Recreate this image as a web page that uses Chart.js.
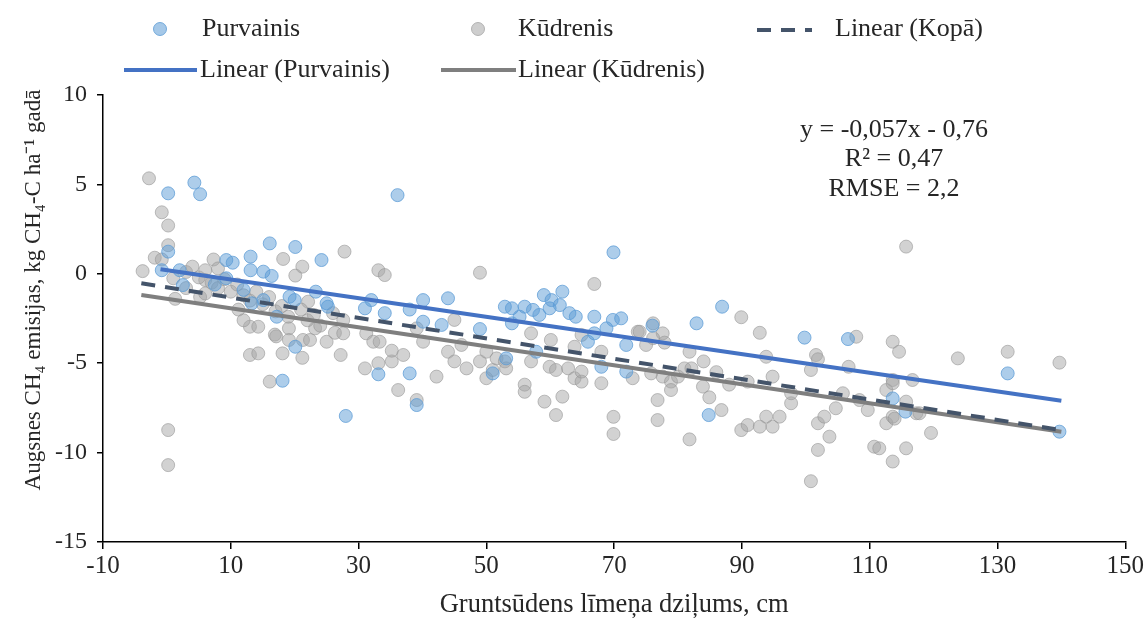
<!DOCTYPE html>
<html>
<head>
<meta charset="utf-8">
<script src="https://cdn.jsdelivr.net/npm/chart.js@4.4.1/dist/chart.umd.min.js"></script>
<style>
  html, body { margin: 0; padding: 0; background: #fff; }
  #wrap { width: 1146px; height: 624px; }
</style>
</head>
<body>
<div id="wrap"><canvas id="myChart"></canvas></div>
<script>
// data
const purvX = [-0.8, 0.2, 4.3, 5.2, 0.2, 16.1, 20.1, 24.2, 13.1, 9.3, 10.3, 13.1, 15.1, 16.4, 9.3, 2.0, 2.5, 19.2, 20, 13.3,
  15.1, 17.2, 23.3, 25, 25.2, 20.1, 18.1, 28.0, 36.1, 32.0, 31.0, 34.1, 38.0, 40.1, 44.0, 40.1, 33.1, 38.0, 39.1, 43.0,
  49.0, 52.9, 54.0, 56, 57.3, 58.3, 54, 55.2, 59, 60.2, 61.9, 59.9, 61.5, 63.0, 64.0, 66.9, 69.8, 71.1, 68.8, 65.9,
  66.9, 69.9, 71.9, 57.8, 53.1, 51.0, 68.0, 71.9, 86.9, 82.9, 76, 99.8, 106.6, 84.8, 113.6, 115.6, 131.6, 139.7, 7.5, 12];
const purvY = [0.2, 4.5, 5.1, 4.45, 1.24, 1.7, 1.5, 0.77, 0.96, 0.77, 0.62, 0.2, 0.12, -0.12, -0.25, 0.2, -0.63, -1.28, -1.47, -1.65,
  -1.47, -2.4, -1.0, -1.65, -1.84, -4.08, -5.98, -7.95, 4.4, -1.47, -1.93, -2.2, -2.0, -1.47, -1.37, -2.68, -5.62, -5.57, -7.34, -2.86,
  -3.09, -1.84, -1.93, -1.84, -2.02, -2.3, -2.77, -2.4, -1.19, -1.47, -1.0, -1.93, -1.75, -2.2, -2.4, -2.4, -2.58, -2.49, -3.05, -3.8,
  -3.33, 1.2, -3.98, -4.36, -4.73, -5.57, -5.2, -5.47, -1.84, -2.77, -2.9, -3.57, -3.65, -7.9, -6.97, -7.71, -5.57, -8.83, -0.6, -0.9];

const kudrX = [-2.8, -0.8, 0.2, 0.2, -1.9, -3.8, -0.8, 1.0, 1.3, 7.3, 6.0, 5.2, 11.2, 13.0, 14.3, 16.9, 17.1, 18.2, 21.2, 20.1,
  13.0, 14.3, 18.1, 21.2, 16.1, 27.2, 27.8, 19.1, 19.1, 21.3, 22.4, 25, 26.3, 23.2, 22.1, 0.2, 0.2,
  3, 4, 5, 6, 7, 8, 8, 9, 10, 11, 12, 13, 14, 15, 16, 17, 18, 19, 21, 22, 23, 24, 26, 12, 3, 6,
  33.1, 34.1, 49.0, 66.9, 27.6, 27.6, 31.2, 32.3, 33.3, 31, 33.1, 35.2, 35.2, 37, 36.2, 39.1, 39.1, 40.1, 42.2, 44,
  45, 46.1, 45, 46.9, 49.0, 50, 51, 50, 51.6, 52.9, 53.1, 56, 56, 57, 57, 59.1, 60.9, 61.9, 59.9, 60.9,
  60.1, 62.8, 63.8, 64.9, 64.9, 63.8, 68, 68, 64.9, 69.9, 69.9, 72.9, 73.7,
  115.7, 89.9, 92.8, 76.1, 74.0, 77.6, 76.1, 75, 77.9, 81.8, 75.8, 77.6, 78.9, 78.9, 80, 81, 82.1, 76.8, 76.8, 81.8,
  83.9, 84.9, 86.8, 93.8, 94.8, 90.9, 89.9, 90.9, 92.8, 93.8, 94.8, 95.9, 97.7, 97.7, 101.6, 101.9, 100.8, 101.9, 102.9, 103.7,
  101.9, 100.8, 106.7, 107.9, 104.7, 105.8, 109.7, 108.4, 110.7, 113.6, 114.6, 112.6, 113.6, 112.6, 113.6, 113.6, 115.7, 116.7, 117.3,
  123.8, 131.6, 139.7, 113.6, 115.7, 117.8, 119.6, 111.5, 113.9, 84, 86, 88];
const kudrY = [5.34, 3.44, 2.7, 1.6, 0.9, 0.15, 0.8, -0.25, -1.4, 0.8, -0.35, -1.3, -2.0, -2.96, -2.96, -3.4, -3.5, 0.83, 0.4, -0.1,
  -4.54, -4.45, -4.45, -4.7, -6.03, -4.54, 1.24, -3.05, -3.7, -3.7, -3.7, -3.8, -3.3, -3.05, -1.56, -8.74, -10.7,
  0.1, 0.4, -0.2, 0.2, -0.5, -0.8, 0.3, -0.3, -1.0, -0.6, -1.2, -1.5, -1.0, -1.7, -1.3, -2.1, -1.8, -2.4, -2.0, -2.6, -2.3, -2.9, -2.2, -2.6, -0.8, -1.1,
  0.2, -0.07, 0.06, -0.57, -2.58, -3.33, -3.33, -3.8, -3.8, -5.29, -5.0, -4.9, -4.3, -4.54, -6.5, -7.06, -3.05, -3.8, -5.75, -4.36,
  -4.9, -3.98, -2.58, -5.29, -4.9, -5.84, -5.38, -4.36, -4.73, -4.9, -5.29, -6.2, -6.6, -4.9, -3.33, -7.15, -7.9, -6.87, -5.2, -5.38,
  -3.7, -5.29, -5.84, -6.03, -5.47, -4.08, -4.36, -6.12, -3.42, -8.0, -8.96, -5.84, -3.24,
  1.52, -2.43, -3.3, -2.77, -3.24, -3.33, -3.6, -3.98, -3.85, -4.36, -5.57, -5.75, -6.03, -6.5, -5.75, -5.29, -5.29, -7.06, -8.18, -9.26,
  -6.31, -6.91, -7.62, -4.64, -5.75, -6.03, -8.74, -8.46, -8.55, -7.99, -8.55, -7.99, -7.24, -6.68, -4.54, -4.78, -5.38, -8.36, -7.99, -9.11,
  -9.85, -11.6, -5.2, -3.52, -7.52, -6.68, -7.62, -7.06, -9.67, -3.8, -4.36, -6.5, -5.94, -8.36, -7.99, -10.5, -9.76, -5.94, -7.8,
  -4.73, -4.36, -4.97, -6.12, -7.15, -7.8, -8.9, -9.76, -8.1, -4.9, -5.5, -6.2];

// trend line ends
const trendPurvX = [-1, 140];
const trendPurvY = [0.26, -7.1];
const trendKudrX = [-4, 140];
const trendKudrY = [-1.19, -8.83];
const trendKopaX = [-4, 140];
const trendKopaY = [-0.53, -8.74];

const eqLines = ['y = -0,057x - 0,76', 'R\u00b2 = 0,47', 'RMSE = 2,2'];
const yTitle = 'Augsnes CH\u2084 emisijas, kg CH\u2084-C ha\u207b\u00b9 gad\u0101';

const toPts = (xs, ys) => xs.map((x, i) => ({ x: x, y: ys[i] }));

const serif = "'Liberation Serif', 'Times New Roman', serif";
const txt = '#262626';

// legend, equation and y title drawn by hand, Excel-style
const extras = {
  id: 'extras',
  afterDraw(chart) {
    const c = chart.ctx;
    c.save();
    c.font = '26px ' + serif;
    c.fillStyle = txt;
    c.textBaseline = 'middle';
    c.textAlign = 'left';

    // row 1
    c.beginPath(); c.arc(160, 29, 6.5, 0, Math.PI * 2);
    c.fillStyle = 'rgba(91,155,213,0.55)'; c.fill();
    c.strokeStyle = 'rgba(91,155,213,0.8)'; c.lineWidth = 1; c.stroke();
    c.fillStyle = txt; c.fillText('Purvainis', 202, 29);

    c.beginPath(); c.arc(478, 29, 6.5, 0, Math.PI * 2);
    c.fillStyle = 'rgba(165,165,165,0.55)'; c.fill();
    c.strokeStyle = 'rgba(165,165,165,0.8)'; c.stroke();
    c.fillStyle = txt; c.fillText('K\u016bdrenis', 518, 29);

    c.beginPath(); c.setLineDash([14, 10]); c.lineWidth = 4;
    c.strokeStyle = '#44546A'; c.moveTo(757, 30); c.lineTo(812, 30); c.stroke();
    c.setLineDash([]);
    c.fillStyle = txt; c.fillText('Linear (Kop\u0101)', 835, 29);

    // row 2
    c.beginPath(); c.lineWidth = 4; c.strokeStyle = '#4472C4';
    c.moveTo(124, 70); c.lineTo(197, 70); c.stroke();
    c.fillText('Linear (Purvainis)', 200, 70);

    c.beginPath(); c.strokeStyle = '#7F7F7F';
    c.moveTo(441, 70); c.lineTo(516, 70); c.stroke();
    c.fillText('Linear (K\u016bdrenis)', 518, 70);

    // equation box
    c.textAlign = 'center';
    eqLines.forEach((t, i) => c.fillText(t, 894, 130 + i * 29.5));

    // y axis title
    c.font = '23px ' + serif;
    c.translate(34, 290);
    c.rotate(-Math.PI / 2);
    c.fillText(yTitle, 0, 0);
    c.restore();
  }
};

const ctx = document.getElementById('myChart');

new Chart(ctx, {
  type: 'scatter',
  data: {
    datasets: [
      {
        label: 'Linear (Kopā)',
        data: toPts(trendKopaX, trendKopaY),
        showLine: true, pointRadius: 0,
        borderColor: '#44546A', borderWidth: 4, borderDash: [14, 10],
        order: 1
      },
      {
        label: 'Linear (Purvainis)',
        data: toPts(trendPurvX, trendPurvY),
        showLine: true, pointRadius: 0,
        borderColor: '#4472C4', borderWidth: 4,
        order: 2
      },
      {
        label: 'Linear (Kūdrenis)',
        data: toPts(trendKudrX, trendKudrY),
        showLine: true, pointRadius: 0,
        borderColor: '#7F7F7F', borderWidth: 4,
        order: 3
      },
      {
        label: 'Purvainis',
        data: toPts(purvX, purvY),
        pointRadius: 6.5,
        backgroundColor: 'rgba(91,155,213,0.5)',
        borderColor: 'rgba(91,155,213,0.75)',
        borderWidth: 1,
        order: 4
      },
      {
        label: 'Kūdrenis',
        data: toPts(kudrX, kudrY),
        pointRadius: 6.5,
        backgroundColor: 'rgba(165,165,165,0.5)',
        borderColor: 'rgba(150,150,150,0.6)',
        borderWidth: 1,
        order: 5
      }
    ]
  },
  options: {
    responsive: true,
    maintainAspectRatio: false,
    animation: false,
    layout: { padding: { top: 95, right: 20, left: 0, bottom: 0 } },
    plugins: {
      legend: { display: false },
      tooltip: { enabled: false }
    },
    scales: {
      x: {
        type: 'linear',
        min: -10, max: 150,
        afterFit: (s) => { s.height = 82; },
        ticks: { stepSize: 20, color: txt, font: { family: serif, size: 25 }, padding: 2, maxRotation: 0 },
        grid: { drawOnChartArea: false, tickLength: 7, color: '#000', lineWidth: 1.5 },
        border: { color: '#000', width: 1.5 },
        title: {
          display: true, text: 'Gruntsūdens līmeņa dziļums, cm',
          color: txt, font: { family: serif, size: 26.5 }, padding: { top: 2, bottom: 3 }
        }
      },
      y: {
        min: -15, max: 10,
        afterFit: (s) => { s.width = 103; },
        ticks: { stepSize: 5, color: txt, font: { family: serif, size: 24 }, padding: 10 },
        grid: { drawOnChartArea: false, tickLength: 6, color: '#000', lineWidth: 1.5 },
        border: { color: '#000', width: 1.5 },
        title: { display: false }
      }
    }
  },
  plugins: [extras]
});
</script>
</body>
</html>
